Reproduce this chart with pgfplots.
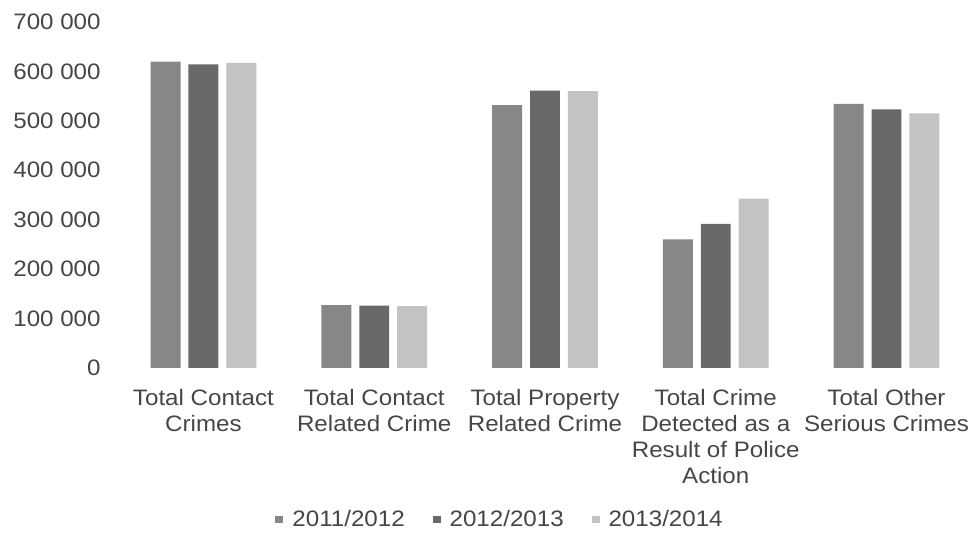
\documentclass[border=0pt]{standalone}
\usepackage{pgfplots}
\pgfplotsset{compat=1.18}
\usepackage{fontspec}
\setmainfont[FakeStretch=1.08]{Liberation Sans}
\definecolor{txt}{RGB}{70,70,70}
\definecolor{cA}{RGB}{135,135,135}
\definecolor{cB}{RGB}{105,105,105}
\definecolor{cC}{RGB}{195,195,195}
\begin{document}
\begin{tikzpicture}
\begin{axis}[
  name=ax,
  scale only axis,
  width=850.6bp, height=347bp,
  xmin=-0.5, xmax=4.467,
  ymin=0, ymax=700000,
  ybar=8bp, bar width=30bp,
  axis line style={draw=none},
  major tick length=0pt,
  xtick={0,...,4},
  xticklabels={Total Contact\\Crimes, Total Contact\\Related Crime, Total Property\\Related Crime, Total Crime\\Detected as a\\Result of Police\\Action, Total Other\\Serious Crimes},
  ytick={0,100000,...,700000},
  scaled y ticks=false,
  /pgf/number format/.cd, fixed, 1000 sep={\ }, assume math mode=true,
  /pgfplots/.cd,
  tick label style={font=\fontsize{22.5}{26.3}\selectfont, text=txt},
  xticklabel style={align=center, inner sep=0pt, yshift=-21bp},
  yticklabel style={anchor=east, xshift=-14bp},
  legend columns=3,
  legend style={at={(0.4504,-0.438)}, anchor=center, draw=none,
    font=\fontsize{22.5}{26.3}\selectfont, text=txt,
    /tikz/every odd column/.append style={column sep=7bp},
    /tikz/every even column/.append style={column sep=26bp}},
]
\addplot[fill=cA, draw=none, legend image code/.code={\fill[cA] (0bp,-4bp) rectangle (8bp,4bp);}]
  coordinates {(0,619500) (1,127000) (2,531600) (3,260000) (4,534000)};
\addlegendentry{2011/2012}
\addplot[fill=cB, draw=none, legend image code/.code={\fill[cB] (0bp,-4bp) rectangle (8bp,4bp);}]
  coordinates {(0,614000) (1,126000) (2,561000) (3,291700) (4,523000)};
\addlegendentry{2012/2013}
\addplot[fill=cC, draw=none, legend image code/.code={\fill[cC] (0bp,-4bp) rectangle (8bp,4bp);}]
  coordinates {(0,617000) (1,125000) (2,560000) (3,342700) (4,515000)};
\addlegendentry{2013/2014}
\end{axis}
\path ([shift={(-118.4bp,-166bp)}]ax.south west) rectangle ([shift={(0bp,22bp)}]ax.north east);
\end{tikzpicture}
\end{document}
